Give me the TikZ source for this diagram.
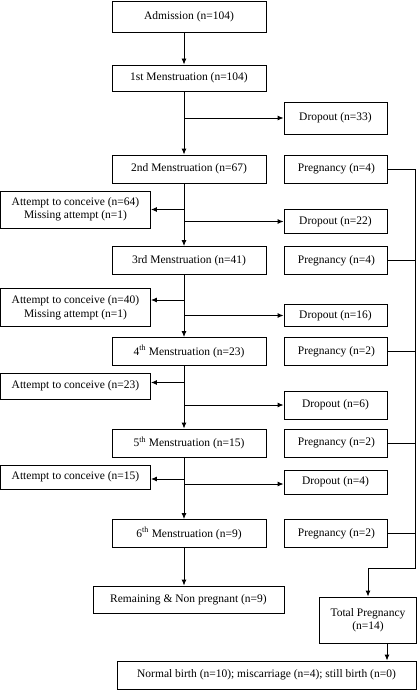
\documentclass[tikz,border=0pt]{standalone}
\usepackage{fontspec}
\setmainfont{Liberation Serif}
\usepackage{tikz}
\usetikzlibrary{positioning,arrows.meta}
\tikzset{>={Latex[length=6pt,width=5pt]}}
\tikzset{
  box/.style={draw, line width=0.9pt, align=center, inner sep=1pt,
    font=\fontsize{11.5}{13.5}\selectfont},
  mbox/.style={box, minimum width=154pt, minimum height=28pt},
  sbox/.style={box, minimum width=103pt},
  tbox/.style={box, minimum width=150pt},
  link/.style={line width=0.9pt}
}

\begin{document}
\begin{tikzpicture}[x=1pt,y=-1pt]
  \useasboundingbox (0,0) rectangle (417,690);

  % Nodes
  \node[mbox, minimum height=31pt] (adm) at (189,16.5) {Admission (n=104)};
  \node[mbox, minimum height=26pt] (m1)  at (189,78)   {1st Menstruation (n=104)};
  \node[mbox] (m2) at (189,169)   {2nd Menstruation (n=67)};
  \node[mbox] (m3) at (189,260.5) {3rd Menstruation (n=41)};
  \node[mbox] (m4) at (189,351.5) {4\textsuperscript{th} Menstruation (n=23)};
  \node[mbox] (m5) at (189,443)   {5\textsuperscript{th} Menstruation (n=15)};
  \node[mbox] (m6) at (189,533.5) {6\textsuperscript{th} Menstruation (n=9)};
  \node[box, minimum width=191pt, minimum height=27pt] (rem) at (188.5,599.5)
    {Remaining \& Non pregnant (n=9)};

  \node[sbox, minimum height=28pt, right=18pt of m2] (preg2) {Pregnancy (n=4)};
  \node[sbox, minimum height=28pt, right=18pt of m3] (preg3) {Pregnancy (n=4)};
  \node[sbox, minimum height=28pt, right=18pt of m4] (preg4) {Pregnancy (n=2)};
  \node[sbox, minimum height=28pt, right=18pt of m5] (preg5) {Pregnancy (n=2)};
  \node[sbox, minimum height=28pt, right=18pt of m6] (preg6) {Pregnancy (n=2)};

  \node[sbox, minimum height=32pt] (drop1) at (335.5,118)   {Dropout (n=33)};
  \node[sbox, minimum height=24pt] (drop2) at (335.5,221.5) {Dropout (n=22)};
  \node[sbox, minimum height=22pt] (drop3) at (335.5,315.5) {Dropout (n=16)};
  \node[sbox, minimum height=28pt] (drop4) at (335.5,405)   {Dropout (n=6)};
  \node[sbox, minimum height=24pt] (drop5) at (335.5,482)   {Dropout (n=4)};

  \node[tbox, minimum height=37pt] (try2) at (75.5,209.5)
    {Attempt to conceive (n=64)\\Missing attempt (n=1)};
  \node[tbox, minimum height=38pt] (try3) at (75.5,307.5)
    {Attempt to conceive (n=40)\\Missing attempt (n=1)};
  \node[tbox, minimum height=26pt] (try4) at (75.5,386) {Attempt to conceive (n=23)};
  \node[tbox, minimum height=24pt] (try5) at (75.5,477) {Attempt to conceive (n=15)};

  \node[box, minimum width=97pt, minimum height=46pt] (total) at (368,620)
    {Total Pregnancy\\(n=14)};
  \node[box, minimum width=299pt, minimum height=28pt] (birth) at (266.5,675)
    {Normal birth (n=10); miscarriage (n=4); still birth (n=0)};

  \coordinate (sp) at (184,0);
  \coordinate (rail) at (415,568);

  % Edges
  \draw[link,->] (adm.south -| sp) -- (m1.north -| sp);
  \draw[link,->] (m1.south -| sp) -- (m2.north -| sp);
  \draw[link,->] (m2.south -| sp) -- (m3.north -| sp);
  \draw[link,->] (m3.south -| sp) -- (m4.north -| sp);
  \draw[link,->] (m4.south -| sp) -- (m5.north -| sp);
  \draw[link,->] (m5.south -| sp) -- (m6.north -| sp);
  \draw[link,->] (m6.south -| sp) -- (rem.north -| sp);

  \draw[link,->] (drop1.west -| sp) -- (drop1.west);
  \draw[link,->] (drop2.west -| sp) -- (drop2.west);
  \draw[link,->] (drop3.west -| sp) -- (drop3.west);
  \draw[link,->] (drop4.west -| sp) -- (drop4.west);
  \draw[link,->] ([yshift=-2pt]drop5.west -| sp) -- ([yshift=-2pt]drop5.west);

  \draw[link,->] (try2.east -| sp) -- (try2.east);
  \draw[link,->] ([yshift=7.5pt]try3.east -| sp) -- ([yshift=7.5pt]try3.east);
  \draw[link,->] ([yshift=3.5pt]try4.east -| sp) -- ([yshift=3.5pt]try4.east);
  \draw[link,->] ([yshift=-2pt]try5.east -| sp) -- ([yshift=-2pt]try5.east);

  % Pregnancy rail
  \draw[link,->] (preg2.east) -| (rail) -| (total.north);
  \draw[link] (preg3.east) -- (preg3.east -| rail);
  \draw[link] (preg4.east) -- (preg4.east -| rail);
  \draw[link] (preg5.east) -- (preg5.east -| rail);
  \draw[link] (preg6.east) -- (preg6.east -| rail);

  \draw[link,->] ([xshift=19pt]total.south) -- ([xshift=19pt]total.south |- birth.north);

\end{tikzpicture}
\end{document}
